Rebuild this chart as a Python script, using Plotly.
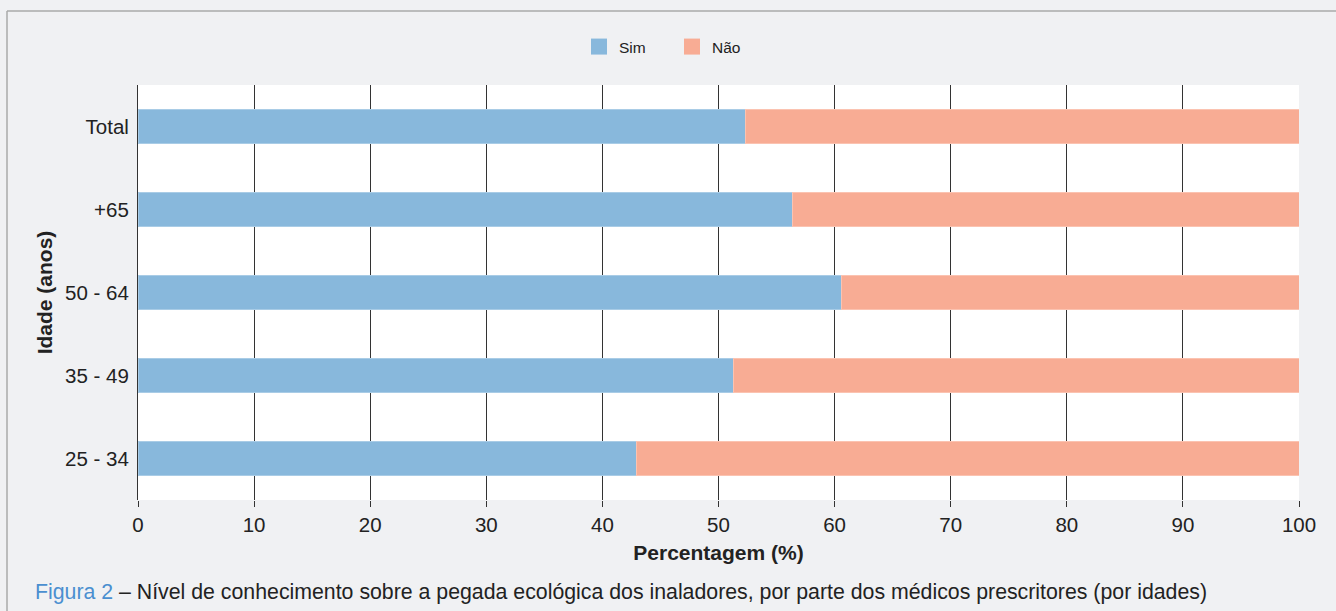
import plotly.graph_objects as go

categories = ["25 - 34", "35 - 49", "50 - 64", "+65", "Total"]
sim = [42.9, 51.3, 60.6, 56.4, 52.3]
nao = [round(100 - v, 1) for v in sim]
x_ticks = [0, 10, 20, 30, 40, 50, 60, 70, 80, 90, 100]
series_names = ["Sim", "Não"]

BLUE = "#88b8dc"
SALMON = "#f8ac94"
BG = "#f0f1f3"
FONT = "Liberation Sans, Arial, sans-serif"
TXT = "#222222"

L, R, T, B = 138, 37, 85, 111
W, H = 1336, 611
PW, PH = W - L - R, H - T - B

fig = go.Figure()
fig.add_trace(go.Bar(
    y=categories, x=sim, name=series_names[0], orientation="h",
    marker=dict(color=BLUE, line=dict(color="#a9cce6", width=1)),
    width=0.4, showlegend=False,
))
fig.add_trace(go.Bar(
    y=categories, x=nao, name=series_names[1], orientation="h",
    marker=dict(color=SALMON, line=dict(color="#fbc3b1", width=1)),
    width=0.4, showlegend=False,
))
# legend entries with larger square swatches
for nm, col in zip(series_names, [BLUE, SALMON]):
    fig.add_trace(go.Scatter(
        x=[None], y=[None], mode="markers", name=nm,
        marker=dict(symbol="square", size=16, color=col),
        showlegend=True, hoverinfo="skip",
    ))

fig.update_layout(
    barmode="stack",
    width=W, height=H,
    paper_bgcolor=BG,
    plot_bgcolor="white",
    font=dict(family=FONT, color=TXT, size=20),
    margin=dict(l=L, r=R, t=T, b=B),
    showlegend=True,
    legend=dict(
        orientation="h", x=(579 - L) / PW, xanchor="left",
        y=1 + (T - 47) / PH, yanchor="middle",
        font=dict(size=15.5, color=TXT),
        bgcolor="rgba(0,0,0,0)",
        traceorder="normal",
        entrywidth=48, entrywidthmode="pixels",
    ),
    xaxis=dict(
        range=[0, 100], tickvals=x_ticks, ticktext=[str(t) for t in x_ticks],
        showgrid=True, gridcolor="#333333", gridwidth=1,
        zeroline=False,
        ticks="outside", ticklen=6, tickcolor="#333333", tickwidth=1,
        tickfont=dict(size=20.5, color=TXT),
        title=dict(text="<b>Percentagem (%)</b>", font=dict(size=21, color=TXT), standoff=10),
        showline=False,
        fixedrange=True,
    ),
    yaxis=dict(
        categoryorder="array", categoryarray=categories,
        showgrid=False, zeroline=False,
        showline=True, linecolor="#333333", linewidth=1,
        ticks="", ticklabelstandoff=4,
        tickfont=dict(size=20.5, color=TXT),
        title=dict(text="<b>Idade (anos)</b>", font=dict(size=21, color=TXT), standoff=6),
        range=[-0.5, 4.5],
        fixedrange=True,
    ),
)

# outer border (top and left edges visible)
bx = (7 - L) / PW
by = (T + PH - 11) / PH
fig.add_shape(type="line", xref="paper", yref="paper",
              x0=bx, x1=1.2, y0=by, y1=by,
              line=dict(color="#aaaaaa", width=1.5))
fig.add_shape(type="line", xref="paper", yref="paper",
              x0=bx, x1=bx, y0=-1, y1=by,
              line=dict(color="#aaaaaa", width=1.5))

fig.add_annotation(
    xref="paper", yref="paper", x=(33 - L) / PW, xanchor="left",
    y=-(592 - (T + PH)) / PH, yanchor="middle", showarrow=False,
    text='<span style="color:#4a8fd0">Figura 2</span> – Nível de conhecimento sobre a pegada ecológica dos inaladores, por parte dos médicos prescritores (por idades)',
    font=dict(size=21.3, color=TXT, family=FONT),
)

fig.write_html(
    "out.html",
    config={"displayModeBar": False},
    post_script="document.body.style.margin='0';document.body.style.background='#f0f1f3';",
)
